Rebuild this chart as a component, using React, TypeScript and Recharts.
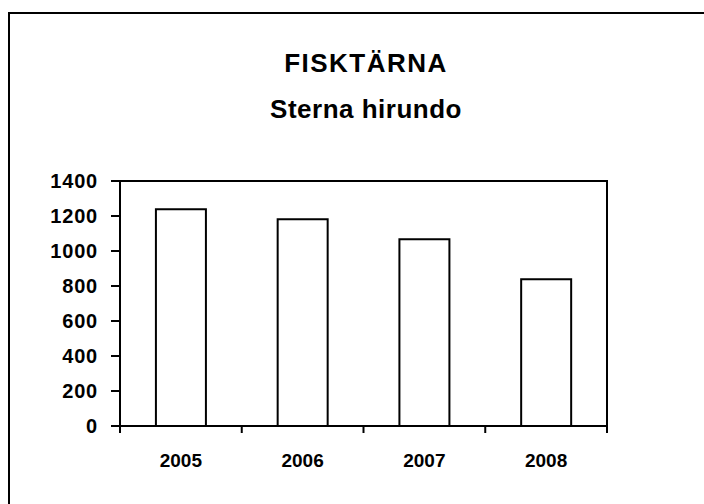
import { BarChart, Bar, XAxis, YAxis } from 'recharts';

const years = ['2005', '2006', '2007', '2008'];
const counts = [1238, 1181, 1067, 838];
const yTicks = [0, 200, 400, 600, 800, 1000, 1200, 1400];

const data = years.map((year, i) => ({ year, count: counts[i] }));

const font = 'Arial, "Liberation Sans", sans-serif';

function YearTick(props: any) {
  const { x, y, payload, index } = props;
  const half = payload.offset || 60.875;
  const last = index === years.length - 1;
  return (
    <g>
      <line x1={x - half} y1={y - 8} x2={x - half} y2={y - 1} stroke="#000" strokeWidth={2} />
      {last && <line x1={x + half} y1={y - 8} x2={x + half} y2={y - 1} stroke="#000" strokeWidth={2} />}
      <text x={x} y={y + 33} textAnchor="middle" fontFamily={font} fontWeight="bold" fontSize={19} fill="#000">
        {payload.value}
      </text>
    </g>
  );
}

export default function App() {
  return (
    <div style={{ position: 'absolute', left: 0, top: 0, width: 704, height: 504, background: '#fff', overflow: 'hidden' }}>
      <div style={{ position: 'absolute', left: 8, top: 12, width: 720, height: 520, border: '2px solid #000' }} />
      <div style={{ position: 'absolute', left: 0, top: 40, width: 732, textAlign: 'center', fontFamily: font, fontWeight: 'bold', fontSize: 26, lineHeight: '46px', color: '#000' }}>
        <div style={{ letterSpacing: 1.5 }}>FISKTÄRNA</div>
        <div style={{ letterSpacing: 0.5 }}>Sterna hirundo</div>
      </div>
      <div style={{ position: 'absolute', left: 0, top: 0 }}>
        <BarChart width={704} height={504} data={data} margin={{ top: 181, right: 97, bottom: 38, left: 60 }} barCategoryGap="29.5%">
          <XAxis dataKey="year" axisLine={{ stroke: '#000', strokeWidth: 2 }} tickLine={false} tick={<YearTick />} height={40} interval={0} />
          <YAxis
            domain={[0, 1400]}
            ticks={yTicks}
            width={60}
            interval={0}
            axisLine={{ stroke: '#000', strokeWidth: 2 }}
            tickLine={{ stroke: '#000', strokeWidth: 2 }}
            tickSize={9}
            tickMargin={13}
            tick={{ fill: '#000', fontFamily: font, fontWeight: 'bold', fontSize: 20, letterSpacing: 0.8 }}
          />
          <Bar dataKey="count" fill="#fff" stroke="#000" strokeWidth={2} isAnimationActive={false} />
        </BarChart>
      </div>
      <div style={{ position: 'absolute', left: 120, top: 180, width: 486, height: 246, borderTop: '2px solid #000', borderRight: '2px solid #000', pointerEvents: 'none' }} />
    </div>
  );
}
